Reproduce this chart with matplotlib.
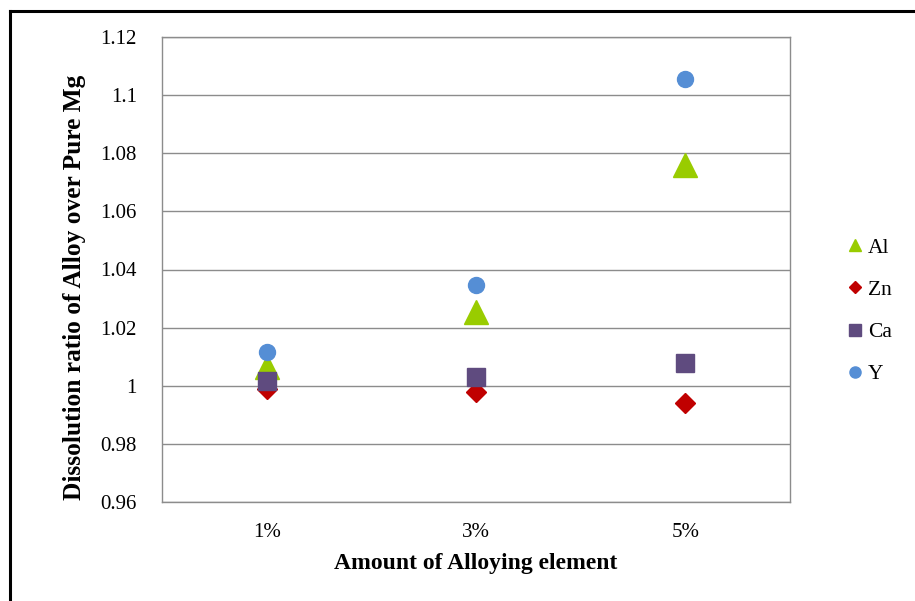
import matplotlib
matplotlib.use("Agg")
import matplotlib.pyplot as plt
from matplotlib.lines import Line2D

# Dissolution ratio of Mg alloys relative to pure Mg
categories = ["1%", "3%", "5%"]
al_values = [1.0065, 1.0255, 1.0760]
zn_values = [0.9990, 0.9980, 0.9940]
ca_values = [1.0015, 1.0030, 1.0080]
y_values = [1.0115, 1.0348, 1.1055]
y_ticks = [0.96, 0.98, 1.0, 1.02, 1.04, 1.06, 1.08, 1.1, 1.12]
y_tick_labels = ["0.96", "0.98", "1", "1.02", "1.04", "1.06", "1.08", "1.1", "1.12"]

series = [
    ("Al", al_values, "^", "#99CC00", 17, 8.5),
    ("Zn", zn_values, "D", "#C00000", 10, 6.5),
    ("Ca", ca_values, "s", "#5F4B7F", 12.5, 8),
    ("Y", y_values, "o", "#558ED5", 11.5, 8),
]

plt.rcParams["font.family"] = ["Liberation Serif", "DejaVu Serif"]

fig = plt.figure(figsize=(9.15, 6.01), dpi=100)
ax = fig.add_axes([162 / 915, 99 / 601, 628 / 915, 465 / 601])

x = list(range(len(categories)))
grid_color = "#8C8C8C"

for name, vals, marker, color, ms, _ in series:
    ax.plot(x, vals, linestyle="none", marker=marker, markersize=ms,
            color=color, markeredgecolor=color, zorder=3)

ax.set_xlim(-0.5, len(categories) - 0.5)
ax.set_ylim(0.96, 1.12)
ax.set_yticks(y_ticks)
ax.set_yticklabels(y_tick_labels)
ax.set_xticks(x)
ax.set_xticklabels(categories)
ax.yaxis.grid(True, color=grid_color, linewidth=1.0)
ax.set_axisbelow(True)
ax.tick_params(axis="both", length=0, labelsize=15)
ax.tick_params(axis="y", pad=18)
ax.tick_params(axis="x", pad=15)

for side in ["left", "right", "bottom", "top"]:
    ax.spines[side].set_color(grid_color)
    ax.spines[side].set_linewidth(1.0)

ax.set_xlabel("Amount of Alloying element", fontsize=17, fontweight="bold")
ax.xaxis.set_label_coords(0.5, -(564 - 502) / 465, transform=ax.transAxes)
ax.xaxis.label.set_va("center")
ax.set_ylabel("Dissolution ratio of Alloy over Pure Mg", fontsize=18.3,
              fontweight="bold")
ax.yaxis.set_label_coords(-(162 - 75) / 628, (502 - 287) / 465, transform=ax.transAxes)
ax.yaxis.label.set_va("center")

handles = [Line2D([], [], linestyle="none", marker=m, markersize=lms,
                  color=c, markeredgecolor=c, label=n)
           for n, _, m, c, _, lms in series]
fig.legend(handles=handles, loc="center left", bbox_to_anchor=(838 / 915, 1 - 311 / 601),
           frameon=False, fontsize=15.5, handlelength=0.6, handletextpad=0.3,
           labelspacing=1.02, borderpad=0)

# outer chart frame (top and left edges)
fig.add_artist(Line2D([10 / 915, 10 / 915], [0, 1 - 11 / 601], color="black",
                      linewidth=2.2, transform=fig.transFigure))
fig.add_artist(Line2D([10 / 915, 1], [1 - 11 / 601, 1 - 11 / 601], color="black",
                      linewidth=2.2, transform=fig.transFigure))

fig.savefig("out.png", dpi=100)
